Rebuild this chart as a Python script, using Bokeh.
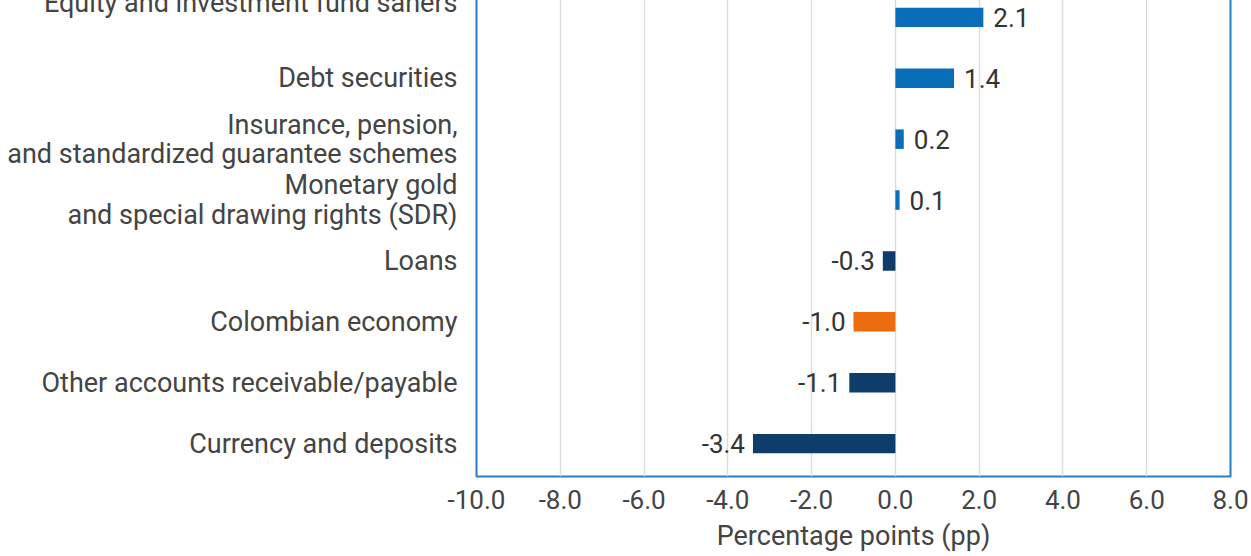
from bokeh.plotting import figure
from bokeh.models import Range1d, FixedTicker, NumeralTickFormatter, ColumnDataSource
from bokeh.core.properties import value
from bokeh.embed import file_html
from bokeh.resources import INLINE

# Data (bottom to top)
categories = [
    "Currency and deposits",
    "Other accounts receivable/payable",
    "Colombian economy",
    "Loans",
    "Monetary gold\nand special drawing rights (SDR)",
    "Insurance, pension,\nand standardized guarantee schemes",
    "Debt securities",
    "Equity and investment fund sahers\n ",
]
values = [-3.4, -1.1, -1.0, -0.3, 0.1, 0.2, 1.4, 2.1]
total_label = "Colombian economy"
x_ticks = [-10, -8, -6, -4, -2, 0, 2, 4, 6, 8]

POS = "#0a6db7"
NEG = "#0f3d6b"
TOT = "#ef6c0e"

ypos = list(range(len(categories)))
colors = [TOT if c == total_label else (POS if v >= 0 else NEG) for c, v in zip(categories, values)]
labels = [f"{v:.1f}" for v in values]
pos_mask = [v >= 0 for v in values]

src_pos = ColumnDataSource(dict(
    y=[y for y, m in zip(ypos, pos_mask) if m],
    x=[v for v, m in zip(values, pos_mask) if m],
    t=[l for l, m in zip(labels, pos_mask) if m],
))
src_neg = ColumnDataSource(dict(
    y=[y for y, m in zip(ypos, pos_mask) if not m],
    x=[v for v, m in zip(values, pos_mask) if not m],
    t=[l for l, m in zip(labels, pos_mask) if not m],
))
src = ColumnDataSource(dict(y=ypos, right=values, color=colors))

p = figure(
    width=1246, height=572,
    x_range=Range1d(-10, 8),
    y_range=Range1d(-0.54, len(categories) - 1 + 0.54),
    output_backend="svg", toolbar_location=None,
    min_border_left=472, min_border_right=20, min_border_top=0, min_border_bottom=80,
)
p.styles = {"margin-top": "-16px", "margin-left": "4px", "margin-bottom": "-20px"}

p.hbar(y="y", left=0, right="right", height=0.32, color="color", source=src, line_width=0)

font = "Roboto"
p.text(x="x", y="y", text="t", source=src_pos, x_offset=10, text_align="left",
       text_baseline="middle", text_font=value(font), text_font_size="26px", text_color="#333333")
p.text(x="x", y="y", text="t", source=src_neg, x_offset=-8, text_align="right",
       text_baseline="middle", text_font=value(font), text_font_size="26px", text_color="#333333")

p.outline_line_color = "#2b7bc6"
p.outline_line_width = 2

p.xgrid.ticker = FixedTicker(ticks=x_ticks)
p.xgrid.grid_line_color = "#dddddd"
p.xgrid.grid_line_width = 1.5
p.ygrid.grid_line_color = None

xa = p.xaxis[0]
xa.ticker = FixedTicker(ticks=x_ticks)
xa.formatter = NumeralTickFormatter(format="0.0")
xa.axis_line_color = None
xa.major_tick_line_color = None
xa.minor_tick_line_color = None
xa.major_label_text_font = font
xa.major_label_text_font_size = "26px"
xa.major_label_text_color = "#444444"
xa.major_label_standoff = 7
xa.axis_label = "Percentage points (pp)"
xa.axis_label_text_font = font
xa.axis_label_text_font_size = "27px"
xa.axis_label_text_font_style = "normal"
xa.axis_label_text_color = "#444444"
xa.axis_label_standoff = 8

ya = p.yaxis[0]
ya.ticker = FixedTicker(ticks=ypos)
ya.major_label_overrides = {i: c for i, c in zip(ypos, categories)}
ya.axis_line_color = None
ya.major_tick_line_color = None
ya.minor_tick_line_color = None
ya.major_label_text_font = font
ya.major_label_text_font_size = "27px"
ya.major_label_text_color = "#444444"
ya.major_label_text_line_height = 0.91
ya.major_label_standoff = 13

p.background_fill_color = "white"
p.border_fill_color = "white"

open("out.html", "w").write(file_html(p, INLINE))
